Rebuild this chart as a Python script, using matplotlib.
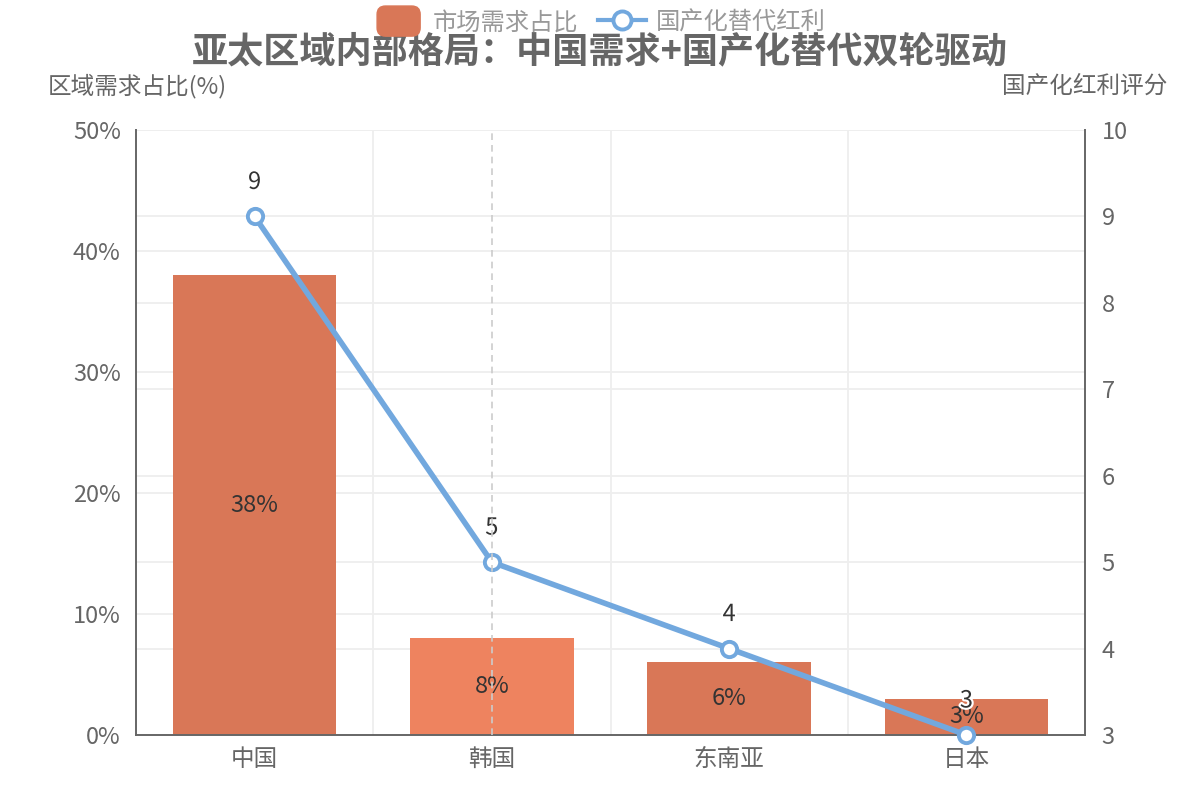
import matplotlib
matplotlib.use("Agg")
import matplotlib.pyplot as plt
from matplotlib.lines import Line2D
from matplotlib.patches import FancyBboxPatch, Patch
from matplotlib.legend_handler import HandlerPatch
from matplotlib.transforms import blended_transform_factory
import matplotlib.patheffects as pe

plt.rcParams['font.family'] = ['Noto Sans CJK SC', 'DejaVu Sans']

# dados
regioes = ["中国", "韩国", "东南亚", "日本"]
demanda_pct = [38, 8, 6, 3]
bonus_score = [9, 5, 4, 3]
destaque = 1  # barra em destaque (韩国)

titulo = "亚太区域内部格局：中国需求+国产化替代双轮驱动"
nome_barra = "市场需求占比"
nome_linha = "国产化替代红利"
eixo_esq = "区域需求占比(%)"
eixo_dir = "国产化红利评分"

cor_barra = "#d97757"
cor_destaque = "#ee835f"
cor_linha = "#72a8de"
cor_grade = "#eeeeee"
cor_eixo = "#666666"

fig = plt.figure(figsize=(12, 8), dpi=100)
ax = fig.add_axes([0.1133, 0.08125, 0.7909, 0.75625])
ax2 = ax.twinx()

x = list(range(len(regioes)))
cores = [cor_destaque if i == destaque else cor_barra for i in x]
ax.bar(x, demanda_pct, width=0.69, color=cores, zorder=2)
for i, v in zip(x, demanda_pct):
    ax.text(i, v / 2, f"{v}%", ha='center', va='center', fontsize=17,
            color='#333333', zorder=3)

ax.set_xlim(-0.5, len(regioes) - 0.5)
ax.set_ylim(0, 50)
ax.set_yticks(range(0, 51, 10))
ax.set_yticklabels([f"{t}%" for t in range(0, 51, 10)])
ax.set_xticks(x)
ax.set_xticklabels(regioes)

ax2.set_ylim(3, 10)
ax2.set_yticks(range(3, 11))

# grade: horizontais dos dois eixos e verticais entre categorias, atrás das barras
for t in range(10, 51, 10):
    ax.axhline(t, color=cor_grade, lw=1.3, zorder=0)
mix = blended_transform_factory(ax.transAxes, ax2.transData)
for t in range(4, 11):
    ax.plot([0, 1], [t, t], transform=mix, color=cor_grade, lw=1.3, zorder=0)
for i in x[:-1]:
    ax.axvline(i + 0.5, color=cor_grade, lw=1.3, zorder=0)

ax2.plot(x, bonus_score, color=cor_linha, lw=4, marker='o', markersize=11,
         markerfacecolor='white', markeredgecolor=cor_linha, markeredgewidth=2.8,
         zorder=4, clip_on=False)
for i, v in zip(x, bonus_score):
    ax2.annotate(str(v), (i, v), xytext=(0, 24.5), textcoords='offset points',
                 ha='center', va='center', fontsize=17, color='#333333', zorder=5,
                 path_effects=[pe.withStroke(linewidth=3, foreground='white')])

ax2.axvline(destaque, color='#cccccc', lw=1.2, ls=(0, (4, 3)), zorder=6)

for a in (ax, ax2):
    for s in a.spines.values():
        s.set_visible(False)
    a.tick_params(length=0, labelsize=17, labelcolor=cor_eixo)
ax.spines['left'].set_visible(True)
ax.spines['bottom'].set_visible(True)
ax2.spines['right'].set_visible(True)
for s in (ax.spines['left'], ax.spines['bottom'], ax2.spines['right']):
    s.set_color(cor_eixo)
    s.set_linewidth(1.4)
ax.tick_params(axis='y', pad=11)
ax.tick_params(axis='x', pad=9)
ax2.tick_params(axis='y', pad=12)

fig.text(0.5, 0.935, titulo, ha='center', va='center', fontsize=26,
         fontweight='bold', color=cor_eixo)
fig.text(0.1141, 0.8925, eixo_esq, ha='center', va='center', fontsize=17, color=cor_eixo)
fig.text(0.904, 0.8925, eixo_dir, ha='center', va='center', fontsize=17, color=cor_eixo)


def caixa_redonda(legend, orig_handle, xdescent, ydescent, width, height, fontsize):
    return FancyBboxPatch((-xdescent + 2, -ydescent - 3), width - 4, height + 6,
                          boxstyle="round,pad=0,rounding_size=6")


handles = [Patch(color=cor_barra, label=nome_barra),
           Line2D([], [], color=cor_linha, lw=3, marker='o', markersize=13,
                  markerfacecolor='white', markeredgewidth=2.8, label=nome_linha)]
leg = fig.legend(handles=handles, loc='center', bbox_to_anchor=(0.5, 0.972),
                 ncol=2, frameon=False, fontsize=17.5, handlelength=2.0,
                 handleheight=1.0, handletextpad=0.4, columnspacing=0.8,
                 labelcolor='#999999',
                 handler_map={Patch: HandlerPatch(patch_func=caixa_redonda)})

fig.savefig("out.png", dpi=100)
